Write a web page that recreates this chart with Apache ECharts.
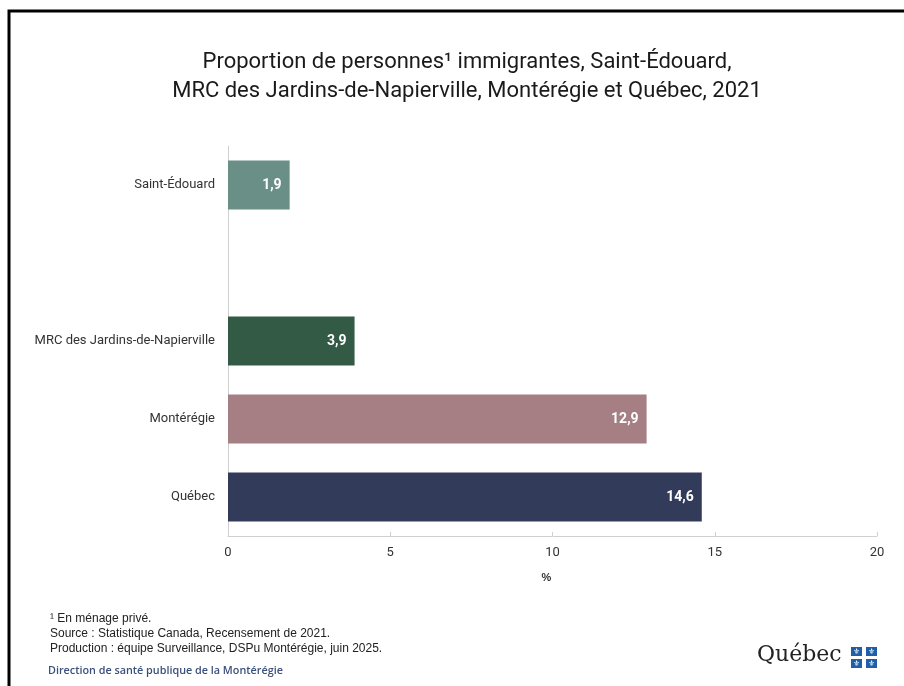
<!DOCTYPE html>
<html><head><meta charset="utf-8">
<script src="https://cdn.jsdelivr.net/npm/echarts@6/dist/echarts.min.js"></script>
<style>html,body{margin:0;padding:0;background:#fff}#c{width:904px;height:686px}</style>
</head><body><div id="c"></div>
<script>
const categories = ['Saint-Édouard', '', 'MRC des Jardins-de-Napierville', 'Montérégie', 'Québec'];
const values = [1.9, null, 3.9, 12.9, 14.6];
const colors = ['#6a8f87', '#ffffff', '#335a45', '#a67f85', '#323b59'];
const xTicks = [0, 5, 10, 15, 20];

const chart = echarts.init(document.getElementById('c'));
const fmt = v => String(v).replace('.', ',');
chart.setOption({
  animation: false,
  backgroundColor: '#fff',
  title: {
    text: 'Proportion de personnes¹ immigrantes, Saint-Édouard,\nMRC des Jardins-de-Napierville, Montérégie et Québec, 2021',
    left: 462, top: 43, textAlign: 'center',
    textStyle: { fontFamily: 'Roboto', fontWeight: 'normal', fontSize: 22, color: '#1a1a1a', lineHeight: 29 }
  },
  grid: { left: 228, right: 27, top: 146, bottom: 150 },
  xAxis: {
    type: 'value', min: 0, max: 20, interval: 5,
    name: '%', nameLocation: 'middle', nameGap: 36,
    nameTextStyle: { fontFamily: 'Liberation Sans', fontWeight: 'bold', fontSize: 11, color: '#333', padding: [0, 12, 0, 0] },
    axisLine: { show: true, lineStyle: { color: '#d0d0d0', width: 1 } },
    axisTick: { show: true, inside: true, length: 4, lineStyle: { color: '#d0d0d0' } },
    splitLine: { show: false },
    axisLabel: { fontFamily: 'Roboto', fontSize: 13, color: '#333', margin: 10, formatter: v => xTicks.includes(v) ? String(v) : '' }
  },
  yAxis: {
    type: 'category', data: categories, inverse: true,
    axisLine: { show: true, lineStyle: { color: '#d0d0d0', width: 1 } },
    axisTick: { show: false },
    axisLabel: { fontFamily: 'Roboto', fontSize: 13, color: '#333', margin: 13 }
  },
  series: [{
    type: 'bar', barWidth: 49,
    data: values.map((v, i) => ({ value: v, itemStyle: { color: colors[i] } })),
    label: { show: true, position: 'insideRight', distance: 8, color: '#fff', fontFamily: 'Roboto', fontWeight: 'bold', fontSize: 14, formatter: p => fmt(p.value) }
  }],
  graphic: [
    { type: 'polyline', shape: { points: [[9, 686], [9, 11], [904, 11]] }, style: { stroke: '#000', lineWidth: 3, fill: null } },
    { type: 'text', left: 50, top: 611, style: { text: '¹ En ménage privé.\nSource : Statistique Canada, Recensement de 2021.\nProduction : équipe Surveillance, DSPu Montérégie, juin 2025.', fontFamily: 'Liberation Sans', fontSize: 12, lineHeight: 15, fill: '#222' } },
    { type: 'text', left: 48, top: 665, style: { text: 'Direction de santé publique de la Montérégie', fontFamily: 'Open Sans', fontWeight: 600, fontSize: 10.8, fill: '#3b4f7c' } },
    { type: 'text', left: 757, top: 644, style: { text: 'Québec', fontFamily: 'DejaVu Serif', fontSize: 22, fill: '#222' } },
    { type: 'rect', shape: { x: 851, y: 647, width: 11, height: 9 }, style: { fill: '#1f5ea8' } },
    { type: 'rect', shape: { x: 866, y: 647, width: 11, height: 9 }, style: { fill: '#1f5ea8' } },
    { type: 'rect', shape: { x: 851, y: 659, width: 11, height: 9 }, style: { fill: '#1f5ea8' } },
    { type: 'rect', shape: { x: 866, y: 659, width: 11, height: 9 }, style: { fill: '#1f5ea8' } },
    { type: 'text', x: 856.5, y: 651.5, style: { text: '⚜', fontSize: 8, fill: '#fff', align: 'center', verticalAlign: 'middle', fontFamily: 'DejaVu Sans' } },
    { type: 'text', x: 871.5, y: 651.5, style: { text: '⚜', fontSize: 8, fill: '#fff', align: 'center', verticalAlign: 'middle', fontFamily: 'DejaVu Sans' } },
    { type: 'text', x: 856.5, y: 663.5, style: { text: '⚜', fontSize: 8, fill: '#fff', align: 'center', verticalAlign: 'middle', fontFamily: 'DejaVu Sans' } },
    { type: 'text', x: 871.5, y: 663.5, style: { text: '⚜', fontSize: 8, fill: '#fff', align: 'center', verticalAlign: 'middle', fontFamily: 'DejaVu Sans' } }
  ]
});
</script></body></html>
